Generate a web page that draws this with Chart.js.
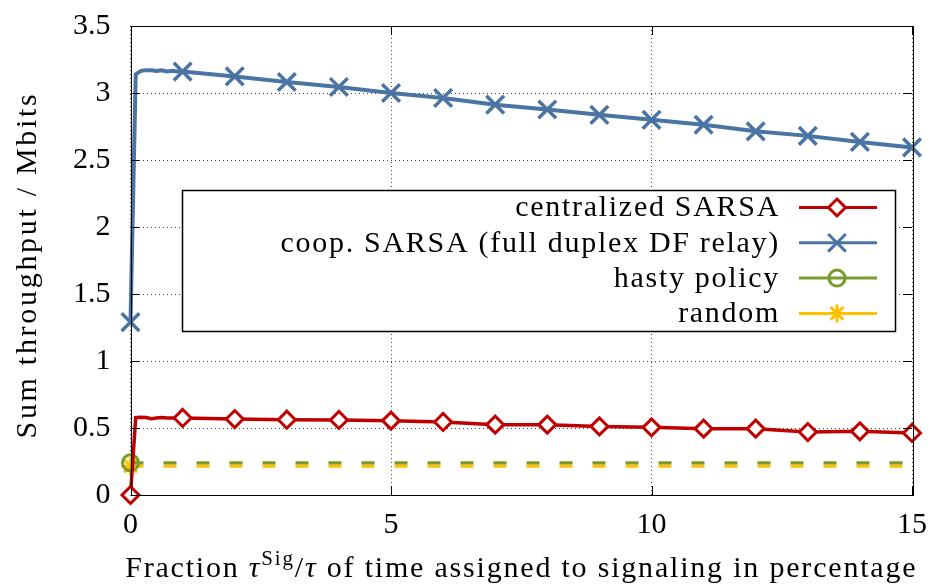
<!DOCTYPE html>
<html>
<head>
<meta charset="utf-8">
<script src="https://cdn.jsdelivr.net/npm/chart.js@4/dist/chart.umd.min.js"></script>
<style>
  html, body { margin: 0; padding: 0; background: #fff; }
  #wrap { width: 931px; height: 586px; position: relative; }
</style>
</head>
<body>
<div id="wrap"><canvas id="chart-main" width="931" height="586"></canvas></div>
<script>
// fraction of time for signaling (percent)
const fracX = [0, 0.1, 0.2, 0.3, 0.4, 0.5, 0.6, 0.7, 0.8, 0.9, 1, 2, 3, 4, 5, 6, 7, 8, 9, 10, 11, 12, 13, 14, 15];
const coopSarsa = [1.29, 3.14, 3.165, 3.17, 3.17, 3.165, 3.17, 3.16, 3.165, 3.16, 3.16, 3.124, 3.082, 3.045, 3.0, 2.963, 2.913, 2.877, 2.837, 2.80, 2.763, 2.714, 2.68, 2.635, 2.594];
const centralSarsa = [0, 0.578, 0.58, 0.578, 0.569, 0.575, 0.578, 0.575, 0.575, 0.575, 0.575, 0.567, 0.562, 0.56, 0.555, 0.545, 0.525, 0.525, 0.512, 0.505, 0.495, 0.495, 0.47, 0.475, 0.463];
const baseX = [0, 15];
const hasty = [0.24, 0.24];
const randomPol = [0.215, 0.215];
const xTicks = [0, 5, 10, 15];
const legendLabels = ["centralized SARSA", "coop. SARSA (full duplex DF relay)", "hasty policy", "random"];

const FONT = "'Liberation Serif', 'Times New Roman', serif";
const RED = "#c00000", BLUE = "#4a74a4", GREEN = "#7a9a2c", YELLOW = "#ffc000";

const pts = (xs, ys) => xs.map((x, i) => ({ x: x, y: ys[i] }));
// markers only on whole numbers (and x = 0)
const markAt = (xs, r) => xs.map((x) => (Number.isInteger(x) ? r : 0));

const styles = [
  { color: RED, pointStyle: "rectRot", radius: 8.5, lineWidth: 3.5, fill: "#fff" },
  { color: BLUE, pointStyle: "crossRot", radius: 12.5, lineWidth: 4, fill: BLUE },
  { color: GREEN, pointStyle: "circle", radius: 8, lineWidth: 3.3, fill: "rgba(0,0,0,0)" },
  { color: YELLOW, pointStyle: "star", radius: 9, lineWidth: 3.3, fill: YELLOW },
];

const datasets = [
  {
    data: pts(fracX, coopSarsa), ...lineStyle(styles[1]),
    pointRadius: markAt(fracX, styles[1].radius),
  },
  {
    data: pts(fracX, centralSarsa), ...lineStyle(styles[0]),
    pointRadius: markAt(fracX, styles[0].radius),
  },
  {
    data: pts(baseX, hasty), ...lineStyle(styles[2]),
    borderDash: [13, 20], pointRadius: [styles[2].radius, 0],
  },
  {
    data: pts(baseX, randomPol), ...lineStyle(styles[3]),
    borderDash: [13, 20], pointRadius: [styles[3].radius, 0],
  },
];

function lineStyle(s) {
  return {
    borderColor: s.color,
    backgroundColor: s.fill,
    borderWidth: s.lineWidth,
    pointStyle: s.pointStyle,
    pointBorderColor: s.color,
    pointBackgroundColor: s.fill,
    pointBorderWidth: s.pointStyle === "crossRot" ? 3.5 : 3,
    tension: 0,
    clip: false,
  };
}

// drop the label overhang so the plot box sits where the padding says
function noOverhang(scale) {
  scale.paddingTop = 0;
  scale.paddingBottom = 0;
  scale.paddingLeft = 0;
  scale.paddingRight = 0;
}

// gnuplot-like inward ticks on all four sides
const innerTicks = {
  id: "innerTicks",
  afterDatasetsDraw(chart) {
    const { ctx, chartArea: a, scales } = chart;
    ctx.save();
    ctx.strokeStyle = "#000";
    ctx.lineWidth = 1;
    ctx.beginPath();
    scales.y.ticks.forEach((t) => {
      const y = Math.round(scales.y.getPixelForValue(t.value)) + 0.5;
      ctx.moveTo(a.left, y); ctx.lineTo(a.left + 9, y);
      ctx.moveTo(a.right, y); ctx.lineTo(a.right - 9, y);
    });
    scales.x.ticks.forEach((t) => {
      const x = Math.round(scales.x.getPixelForValue(t.value)) + 0.5;
      ctx.moveTo(x, a.bottom); ctx.lineTo(x, a.bottom - 9);
      ctx.moveTo(x, a.top); ctx.lineTo(x, a.top + 9);
    });
    ctx.stroke();
    ctx.strokeRect(Math.round(a.left) + 0.5, Math.round(a.top) + 0.5,
      Math.round(a.right - a.left), Math.round(a.bottom - a.top));
    ctx.restore();
  },
};

// key box inside the plot, text right-aligned, sample on the right
const keyBox = {
  id: "keyBox",
  afterDraw(chart) {
    const ctx = chart.ctx;
    const box = { x: 182, y: 190, w: 713, h: 141 };
    ctx.save();
    ctx.fillStyle = "#fff";
    ctx.fillRect(box.x, box.y, box.w, box.h);
    ctx.strokeStyle = "#000";
    ctx.lineWidth = 1.5;
    ctx.strokeRect(box.x + 0.5, box.y + 0.5, box.w, box.h);
    ctx.font = "30px " + FONT;
    ctx.letterSpacing = "1.7px";
    ctx.textAlign = "right";
    ctx.textBaseline = "middle";
    legendLabels.forEach((label, i) => {
      const y = 207.5 + i * 35.3;
      const s = styles[i];
      ctx.fillStyle = "#000";
      ctx.fillText(label, 780, y + 1);
      ctx.strokeStyle = s.color;
      ctx.lineWidth = 3;
      ctx.beginPath();
      ctx.moveTo(799, y); ctx.lineTo(877, y);
      ctx.stroke();
      ctx.fillStyle = s.fill;
      ctx.lineWidth = 3;
      Chart.helpers.drawPoint(ctx, { pointStyle: s.pointStyle, radius: s.radius, rotation: 0, borderWidth: 3 }, 837, y);
    });

    // axis titles
    ctx.fillStyle = "#000";
    ctx.textBaseline = "alphabetic";
    ctx.textAlign = "left";
    ctx.letterSpacing = "1.8px";
    const parts = [
      { t: "Fraction ", f: "30px " + FONT, dy: 0 },
      { t: "τ", f: "italic 30px " + FONT, dy: 0 },
      { t: "Sig", f: "21px " + FONT, dy: -12 },
      { t: "/", f: "30px " + FONT, dy: 0 },
      { t: "τ", f: "italic 30px " + FONT, dy: 0 },
      { t: " of time assigned to signaling in percentage", f: "30px " + FONT, dy: 0 },
    ];
    let total = 0;
    parts.forEach((p) => { ctx.font = p.f; p.w = ctx.measureText(p.t).width; total += p.w; });
    let x = (chart.chartArea.left + chart.chartArea.right) / 2 - total / 2;
    parts.forEach((p) => {
      ctx.font = p.f;
      ctx.fillText(p.t, x, 576.5 + p.dy);
      x += p.w;
    });

    ctx.save();
    ctx.translate(35.5, 265);
    ctx.rotate(-Math.PI / 2);
    ctx.textAlign = "center";
    ctx.letterSpacing = "2.7px";
    ctx.font = "30px " + FONT;
    ctx.fillText("Sum throughput / Mbits", 0, 0);
    ctx.restore();
    ctx.restore();
  },
};

new Chart(document.getElementById("chart-main").getContext("2d"), {
  type: "line",
  data: { datasets: datasets },
  options: {
    responsive: false,
    animation: false,
    events: [],
    layout: { padding: { left: 0, right: 19, top: 26, bottom: 0 } },
    plugins: { legend: { display: false }, tooltip: { enabled: false } },
    scales: {
      x: {
        type: "linear",
        min: 0,
        max: 15,
        afterBuildTicks: (scale) => { scale.ticks = xTicks.map((v) => ({ value: v })); },
        afterFit: (scale) => { scale.height = 91; noOverhang(scale); },
        grid: { color: "rgba(0,0,0,0.75)", lineWidth: 1, drawTicks: false },
        border: { display: false, dash: [1, 3] },
        ticks: { color: "#000", font: { family: FONT, size: 30 }, padding: 12, maxRotation: 0 },
      },
      y: {
        min: 0,
        max: 3.5,
        ticks: {
          stepSize: 0.5, color: "#000", font: { family: FONT, size: 30 }, padding: 20,
          callback: (v) => String(v),
        },
        afterFit: (scale) => { scale.width = 130.5; noOverhang(scale); },
        grid: { color: "rgba(0,0,0,0.75)", lineWidth: 1, drawTicks: false },
        border: { display: false, dash: [1, 3] },
      },
    },
  },
  plugins: [innerTicks, keyBox],
});
</script>
</body>
</html>
